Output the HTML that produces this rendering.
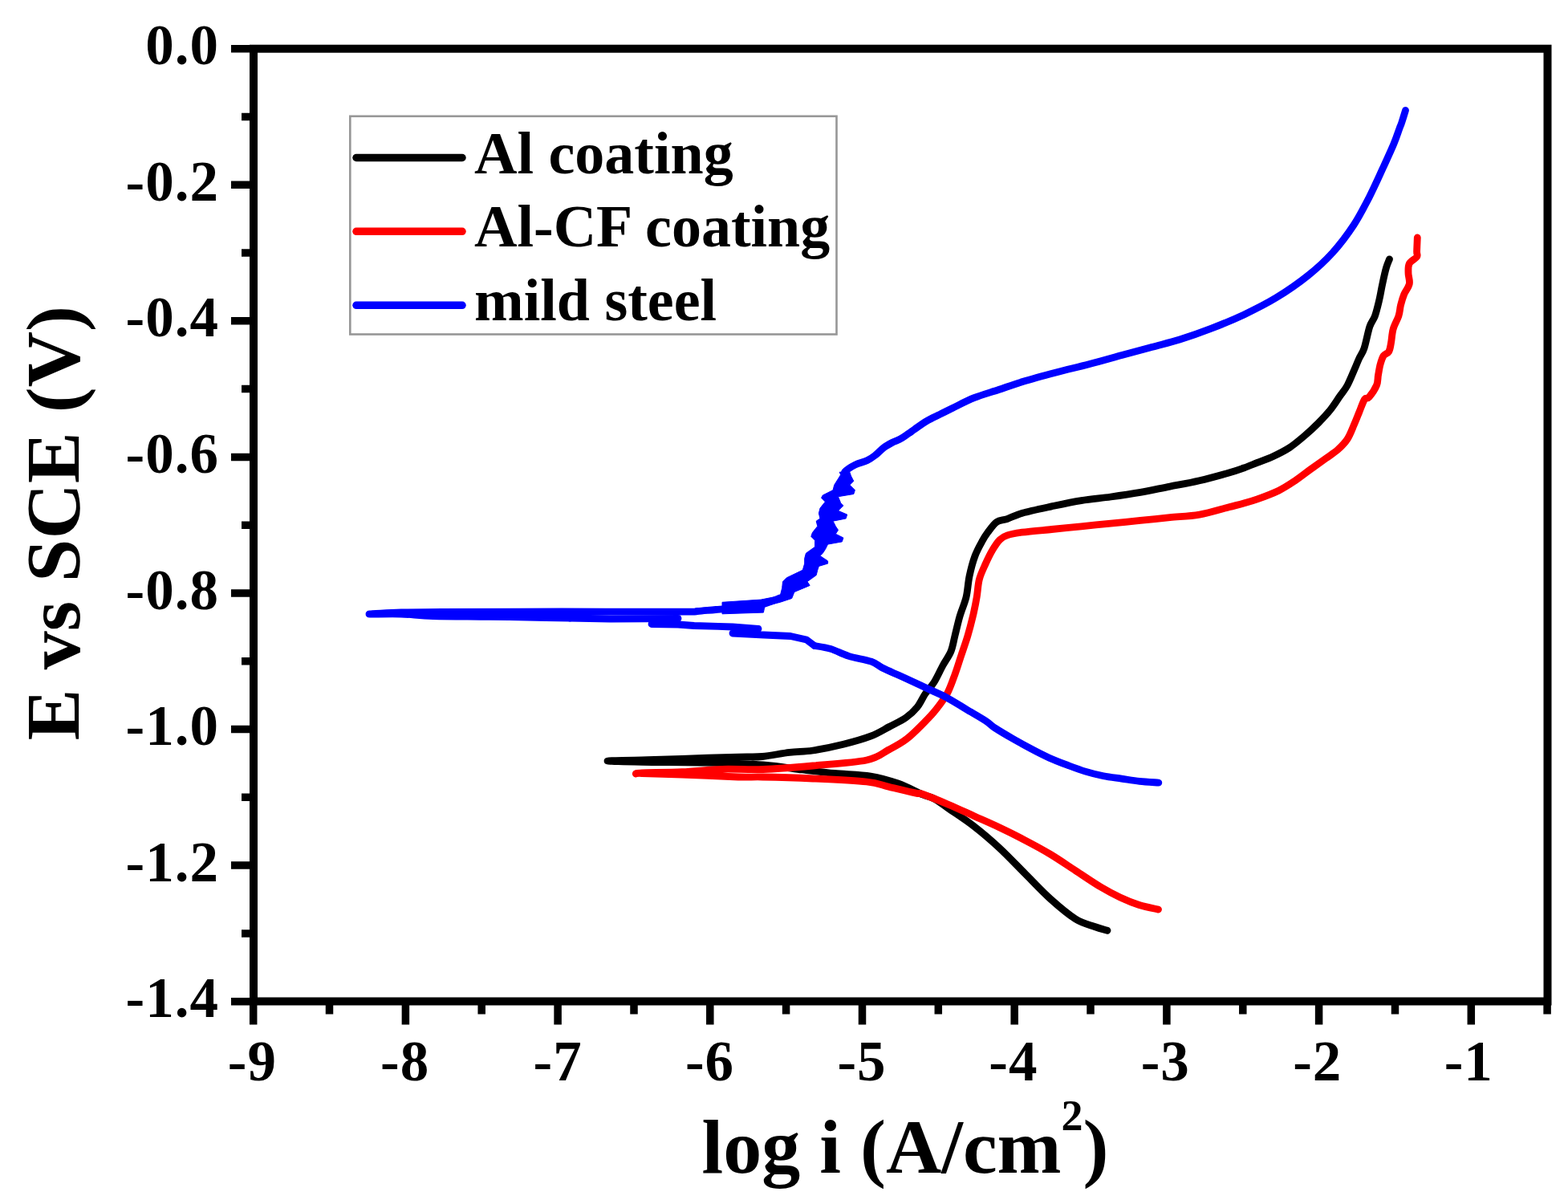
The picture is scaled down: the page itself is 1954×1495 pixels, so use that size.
<!DOCTYPE html>
<html><head><meta charset="utf-8"><style>
html,body{margin:0;padding:0;background:#fff;}
svg{display:block;}
text{font-family:"Liberation Serif","Times New Roman",serif;font-weight:bold;fill:#000;}
.tl{font-size:71px;letter-spacing:1px;}
.at{font-size:96px;}
.sup{font-size:54px;}
.lg{font-size:74px;}
</style></head><body>
<svg width="1954" height="1495" viewBox="0 0 1954 1495">
<rect x="0" y="0" width="1954" height="1495" fill="#fff"/>
<path d="M288.0,60.7H316M301.0,145.5H316M288.0,230.3H316M301.0,315.1H316M288.0,399.8H316M301.0,484.6H316M288.0,569.4H316M301.0,654.2H316M288.0,739.0H316M301.0,823.8H316M288.0,908.5H316M301.0,993.3H316M288.0,1078.1H316M301.0,1162.9H316M288.0,1247.7H316M315.7,1247.5V1276.5M410.5,1247.5V1263.5M505.4,1247.5V1276.5M600.2,1247.5V1263.5M695.1,1247.5V1276.5M790.0,1247.5V1263.5M884.8,1247.5V1276.5M979.6,1247.5V1263.5M1074.5,1247.5V1276.5M1169.3,1247.5V1263.5M1264.2,1247.5V1276.5M1359.0,1247.5V1263.5M1453.9,1247.5V1276.5M1548.8,1247.5V1263.5M1643.6,1247.5V1276.5M1738.5,1247.5V1263.5M1833.3,1247.5V1276.5M1928.1,1247.5V1263.5" stroke="#000" stroke-width="9.5" fill="none"/>
<rect x="316" y="60.7" width="1612.5" height="1186.8" fill="none" stroke="#000" stroke-width="10"/>
<text x="273" y="80.3" text-anchor="end" class="tl">0.0</text>
<text x="273" y="249.9" text-anchor="end" class="tl">-0.2</text>
<text x="273" y="419.4" text-anchor="end" class="tl">-0.4</text>
<text x="273" y="589.0" text-anchor="end" class="tl">-0.6</text>
<text x="273" y="758.6" text-anchor="end" class="tl">-0.8</text>
<text x="273" y="928.1" text-anchor="end" class="tl">-1.0</text>
<text x="273" y="1097.7" text-anchor="end" class="tl">-1.2</text>
<text x="273" y="1267.3" text-anchor="end" class="tl">-1.4</text>
<text x="314.4" y="1345.5" text-anchor="middle" class="tl">-9</text>
<text x="504.6" y="1345.5" text-anchor="middle" class="tl">-8</text>
<text x="695.1" y="1345.5" text-anchor="middle" class="tl">-7</text>
<text x="884.5" y="1345.5" text-anchor="middle" class="tl">-6</text>
<text x="1074.0" y="1345.5" text-anchor="middle" class="tl">-5</text>
<text x="1262.9" y="1345.5" text-anchor="middle" class="tl">-4</text>
<text x="1452.3" y="1345.5" text-anchor="middle" class="tl">-3</text>
<text x="1641.8" y="1345.5" text-anchor="middle" class="tl">-2</text>
<text x="1830.3" y="1345.5" text-anchor="middle" class="tl">-1</text>
<text transform="translate(98.7,922.4) rotate(-90)" class="at">E vs SCE (V)</text>
<text x="874.6" y="1460.6" class="at">log i (A/cm<tspan class="sup" dy="-53">2</tspan><tspan dy="53">)</tspan></text>
<rect x="436.3" y="144.8" width="606.2" height="271.7" fill="#fff" stroke="#979797" stroke-width="2.6"/>
<path d="M444,196.5H576" stroke="#000" stroke-width="9.5" stroke-linecap="round"/>
<text x="591" y="215.5" class="lg">Al coating</text>
<path d="M444,288.3H576" stroke="#f00" stroke-width="9.5" stroke-linecap="round"/>
<text x="591" y="307.3" class="lg">Al-CF coating</text>
<path d="M444,380.3H576" stroke="#00f" stroke-width="9.5" stroke-linecap="round"/>
<text x="591" y="399.3" class="lg">mild steel</text>
<g fill="none" stroke-width="8.8" stroke-linejoin="round" stroke-linecap="round">
<path d="M1380.0,1159.3 C1377.4,1158.5 1370.8,1156.9 1364.2,1154.5 C1357.6,1152.1 1349.7,1150.8 1340.4,1145.0 C1331.2,1139.2 1319.3,1129.1 1308.7,1119.6 C1298.1,1110.1 1287.5,1098.5 1276.9,1087.9 C1266.3,1077.3 1255.8,1066.0 1245.2,1056.2 C1234.6,1046.4 1224.1,1037.4 1213.5,1029.2 C1202.9,1021.0 1190.0,1012.7 1181.7,1007.0 C1173.5,1001.3 1169.3,997.8 1164.0,995.0 C1158.7,992.2 1157.5,993.2 1150.0,990.0 C1142.5,986.8 1129.8,979.8 1119.0,976.0 C1108.2,972.2 1098.2,969.1 1085.0,967.0 C1071.8,964.9 1054.2,964.8 1040.0,963.5 C1025.8,962.2 1014.8,960.8 1000.0,959.0 C985.2,957.2 971.0,954.5 951.0,953.0 C931.0,951.5 905.2,950.8 880.0,950.2 C854.8,949.6 820.5,949.7 800.0,949.3 C779.5,948.9 757.0,948.4 757.0,948.0 C757.0,947.6 784.5,947.5 800.0,947.0 C815.5,946.5 830.0,945.9 850.0,945.3 C870.0,944.6 903.3,943.6 920.0,943.1 C936.7,942.6 939.3,943.5 950.0,942.5 C960.7,941.5 973.5,938.6 984.0,937.4 C994.5,936.1 1001.8,936.7 1013.0,935.0 C1024.2,933.3 1039.0,930.3 1051.0,927.3 C1063.0,924.3 1075.5,920.8 1085.0,917.2 C1094.5,913.6 1100.7,909.4 1108.0,905.5 C1115.3,901.6 1123.2,898.1 1129.0,894.0 C1134.8,889.9 1139.0,885.9 1143.0,881.0 C1147.0,876.1 1149.5,869.6 1153.0,864.4 C1156.5,859.2 1160.3,855.9 1164.0,850.0 C1167.7,844.1 1171.5,835.4 1175.0,829.0 C1178.5,822.6 1182.5,817.7 1185.0,811.5 C1187.5,805.3 1188.2,799.2 1190.0,792.0 C1191.8,784.8 1193.7,776.0 1196.0,768.0 C1198.3,760.0 1202.0,752.3 1204.0,744.0 C1206.0,735.7 1206.2,726.6 1208.0,718.0 C1209.8,709.4 1212.3,699.9 1215.0,692.6 C1217.7,685.3 1221.3,679.1 1224.0,674.2 C1226.7,669.3 1228.0,667.2 1231.0,663.2 C1234.0,659.2 1238.0,653.1 1242.0,650.3 C1246.0,647.5 1249.7,648.5 1255.0,646.6 C1260.3,644.8 1264.8,641.8 1274.0,639.2 C1283.2,636.6 1298.3,633.5 1310.5,630.9 C1322.7,628.3 1335.1,625.6 1347.4,623.6 C1359.7,621.6 1371.9,620.7 1384.2,619.0 C1396.5,617.3 1408.8,615.5 1421.1,613.4 C1433.4,611.2 1445.6,608.5 1457.9,606.1 C1470.2,603.7 1482.5,601.6 1494.8,598.7 C1507.1,595.9 1522.4,591.6 1531.6,589.0 C1540.8,586.4 1544.1,585.1 1550.0,583.0 C1555.9,580.9 1560.7,578.8 1566.8,576.4 C1572.9,574.0 1580.1,571.5 1586.8,568.4 C1593.5,565.3 1600.4,561.9 1606.9,557.7 C1613.4,553.5 1619.6,548.1 1625.6,543.0 C1631.6,537.9 1637.7,532.3 1643.0,526.9 C1648.3,521.5 1653.2,516.4 1657.7,510.8 C1662.2,505.2 1666.2,498.5 1669.8,493.4 C1673.4,488.3 1676.1,485.6 1679.1,480.0 C1682.1,474.4 1685.6,465.5 1688.0,460.0 C1690.4,454.5 1691.4,451.6 1693.4,447.2 C1695.4,442.8 1697.8,440.5 1700.0,433.8 C1702.2,427.1 1704.6,413.8 1706.8,407.1 C1709.0,400.4 1711.4,399.3 1713.4,393.7 C1715.4,388.1 1717.2,380.3 1718.8,373.6 C1720.4,366.9 1721.3,360.3 1722.8,353.6 C1724.2,346.9 1726.0,338.6 1727.5,333.5 C1729.0,328.4 1730.8,324.6 1731.5,322.8" stroke="#000"/>
<path d="M1443.5,1133.1 C1439.5,1132.2 1427.6,1130.0 1419.7,1127.5 C1411.8,1125.0 1403.8,1121.7 1395.9,1118.0 C1388.0,1114.3 1381.3,1110.8 1372.1,1105.3 C1362.8,1099.8 1351.0,1091.6 1340.4,1084.7 C1329.8,1077.8 1319.3,1070.4 1308.7,1064.1 C1298.1,1057.8 1287.5,1052.1 1276.9,1046.6 C1266.3,1041.0 1255.8,1035.8 1245.2,1030.8 C1234.6,1025.8 1224.1,1021.3 1213.5,1016.5 C1202.9,1011.7 1192.3,1006.7 1181.7,1002.2 C1171.1,997.7 1156.7,991.9 1150.0,989.5 C1143.3,987.1 1148.5,989.6 1141.4,988.1 C1134.3,986.6 1117.8,982.6 1107.6,980.2 C1097.4,977.9 1095.8,975.7 1080.0,974.0 C1064.2,972.3 1034.7,971.0 1013.0,970.0 C991.3,969.0 965.5,968.3 950.0,968.0 C934.5,967.7 936.7,968.5 920.0,968.0 C903.3,967.5 870.0,965.8 850.0,965.0 C830.0,964.2 809.6,963.7 800.0,963.5 C790.4,963.3 792.5,964.1 792.5,964.0 C792.5,963.9 790.4,963.2 800.0,962.8 C809.6,962.4 833.3,962.5 850.0,961.7 C866.7,961.0 883.2,958.8 900.0,958.3 C916.8,957.8 932.2,959.2 951.0,958.5 C969.8,957.8 991.5,955.9 1013.0,954.0 C1034.5,952.1 1064.2,950.3 1080.0,947.0 C1095.8,943.7 1099.3,938.4 1107.6,934.0 C1115.9,929.6 1122.5,926.3 1130.0,920.5 C1137.5,914.7 1146.7,905.1 1152.7,899.1 C1158.7,893.1 1161.4,890.3 1166.0,884.5 C1170.6,878.7 1176.2,871.8 1180.2,864.4 C1184.2,857.0 1187.0,848.4 1189.9,840.4 C1192.9,832.4 1195.2,824.3 1197.9,816.3 C1200.6,808.3 1203.5,800.2 1205.9,792.2 C1208.3,784.2 1210.4,776.1 1212.3,768.1 C1214.2,760.1 1215.9,751.8 1217.2,744.1 C1218.5,736.4 1218.6,728.8 1220.3,722.1 C1222.0,715.4 1224.8,709.8 1227.6,703.7 C1230.3,697.6 1233.7,690.5 1236.8,685.3 C1239.9,680.1 1242.9,675.5 1246.0,672.4 C1249.1,669.3 1250.7,668.4 1255.3,666.9 C1259.9,665.4 1264.5,664.4 1273.7,663.2 C1282.9,662.0 1298.2,660.7 1310.5,659.5 C1322.8,658.3 1335.1,657.0 1347.4,655.8 C1359.7,654.6 1371.9,653.3 1384.2,652.1 C1396.5,650.9 1408.8,649.6 1421.1,648.4 C1433.4,647.2 1445.6,645.9 1457.9,644.7 C1470.2,643.5 1482.5,643.2 1494.8,641.1 C1507.1,639.0 1522.4,634.1 1531.6,631.8 C1540.8,629.4 1544.1,628.6 1550.0,627.0 C1555.9,625.4 1559.5,624.5 1566.8,621.9 C1574.0,619.3 1585.7,615.0 1593.5,611.2 C1601.3,607.4 1606.9,603.6 1613.6,599.1 C1620.3,594.6 1627.1,589.1 1633.6,584.4 C1640.1,579.7 1646.8,575.0 1652.4,571.0 C1658.0,567.0 1662.6,564.3 1667.1,560.3 C1671.5,556.3 1675.8,552.1 1679.1,547.0 C1682.4,541.9 1684.8,535.2 1687.2,529.6 C1689.7,524.0 1691.6,518.9 1693.8,513.5 C1696.0,508.1 1698.5,500.6 1700.5,497.5 C1702.5,494.4 1703.5,497.7 1706.0,494.8 C1708.5,491.9 1713.6,484.6 1715.5,480.0 C1717.4,475.4 1716.7,471.7 1717.5,467.3 C1718.3,462.9 1719.0,457.9 1720.1,453.9 C1721.2,449.9 1722.3,445.9 1724.1,443.2 C1725.9,440.5 1729.2,440.6 1730.8,437.9 C1732.4,435.2 1732.6,431.9 1733.5,427.2 C1734.4,422.5 1734.6,415.4 1736.2,409.8 C1737.8,404.2 1741.4,398.6 1742.9,393.7 C1744.5,388.8 1744.4,384.8 1745.5,380.3 C1746.6,375.9 1747.8,371.4 1749.6,367.0 C1751.4,362.6 1755.4,358.1 1756.3,353.6 C1757.2,349.1 1755.0,344.4 1755.0,340.2 C1755.0,336.0 1754.5,331.6 1756.3,328.2 C1758.1,324.8 1764.0,322.5 1765.6,320.0 C1767.1,317.5 1765.5,317.4 1765.6,313.4 C1765.7,309.4 1766.2,298.9 1766.3,296.0" stroke="#f00"/>
<path d="M1443.8,975.1 C1439.8,974.8 1427.8,974.2 1420.1,973.4 C1412.4,972.6 1405.1,971.2 1397.6,970.1 C1390.1,969.0 1382.6,968.2 1375.1,966.7 C1367.6,965.2 1360.1,963.4 1352.6,961.1 C1345.1,958.9 1337.6,956.0 1330.1,953.2 C1322.6,950.4 1315.1,947.6 1307.6,944.2 C1300.1,940.8 1292.5,936.9 1285.0,932.9 C1277.5,928.9 1270.0,924.8 1262.5,920.5 C1255.0,916.2 1245.7,910.7 1240.0,907.0 C1234.3,903.3 1234.4,902.0 1228.4,898.1 C1222.5,894.2 1212.3,888.5 1204.3,883.7 C1196.3,878.9 1188.2,873.6 1180.2,869.3 C1172.2,865.0 1164.2,861.8 1156.2,858.0 C1148.2,854.2 1138.2,849.6 1132.1,846.8 C1126.0,844.0 1124.8,843.5 1119.5,841.1 C1114.2,838.7 1105.6,835.1 1100.0,832.3 C1094.4,829.5 1092.9,826.7 1085.8,824.2 C1078.7,821.7 1066.0,820.0 1057.6,817.4 C1049.1,814.8 1042.2,810.5 1035.1,808.4 C1028.0,806.2 1018.4,805.1 1015.0,804.5" stroke="#00f"/>
<path d="M1015.0,804.5 L1005.0,797.0 L985.0,792.5 L952.0,791.0 L913.0,789.0 L945.0,783.5 L913.0,781.0 L895.0,780.3 L865.0,779.5 L845.0,778.0 L812.0,777.5 L845.0,770.5 L760.0,771.0 L710.0,770.0" stroke="#00f"/>
<path d="M710.0,770.0 C705.0,769.9 696.7,769.8 680.0,769.5 C663.3,769.2 633.3,768.6 610.0,768.3 C586.7,768.0 558.3,768.0 540.0,767.5 C521.7,767.0 513.3,765.4 500.0,765.0 C486.7,764.6 460.0,765.3 460.0,765.0 C460.0,764.7 485.0,763.4 500.0,763.0 C515.0,762.6 516.7,762.7 550.0,762.5 C583.3,762.3 650.0,762.0 700.0,762.0 C750.0,762.0 821.8,762.3 850.0,762.2 C878.2,762.1 862.0,762.0 869.0,761.5 C876.0,761.0 883.5,760.2 892.0,759.5 C900.5,758.8 910.3,758.1 920.0,757.0 C929.7,755.9 941.3,755.0 950.0,753.0 C958.7,751.0 968.3,746.3 972.0,745.0" stroke="#00f"/>
<path d="M1052.8,594.0 C1052.8,593.0 1050.7,590.3 1052.8,587.8 C1054.9,585.3 1060.9,581.5 1065.6,579.1 C1070.3,576.7 1076.6,575.5 1080.9,573.5 C1085.2,571.5 1087.8,569.4 1091.2,566.8 C1094.6,564.1 1098.0,560.1 1101.4,557.6 C1104.8,555.1 1108.2,553.3 1111.6,551.5 C1115.0,549.7 1118.5,548.8 1121.9,546.9 C1125.3,545.0 1129.1,542.2 1132.1,540.2 C1135.1,538.2 1136.2,537.2 1140.0,534.6 C1143.8,532.0 1149.5,527.6 1154.7,524.6 C1159.9,521.6 1165.5,519.1 1171.0,516.4 C1176.5,513.7 1180.3,511.6 1187.4,508.2 C1194.5,504.8 1204.3,499.5 1213.8,495.7 C1223.3,491.9 1234.3,488.9 1244.5,485.5 C1254.7,482.1 1263.3,478.9 1275.2,475.3 C1287.1,471.7 1302.5,467.6 1316.1,464.0 C1329.7,460.4 1343.3,457.4 1357.0,453.8 C1370.7,450.2 1385.0,446.1 1398.0,442.5 C1411.0,438.9 1423.0,435.8 1435.0,432.5 C1447.0,429.2 1457.5,426.9 1470.1,423.0 C1482.6,419.1 1496.9,414.1 1510.3,408.9 C1523.7,403.7 1537.0,398.2 1550.4,391.9 C1563.8,385.5 1577.1,379.0 1590.5,370.8 C1603.9,362.6 1619.0,352.1 1630.7,342.7 C1642.4,333.3 1651.4,325.0 1660.8,314.6 C1670.2,304.2 1679.2,292.2 1686.9,280.5 C1694.6,268.8 1700.9,256.1 1706.9,244.4 C1712.9,232.7 1718.0,221.1 1723.0,210.2 C1728.0,199.3 1733.5,187.4 1737.0,179.0 C1740.5,170.6 1742.3,164.5 1744.0,160.0 C1745.7,155.5 1745.8,155.8 1747.0,152.0 C1748.2,148.2 1750.8,139.9 1751.5,137.5" stroke="#00f"/>
</g>
<path d="M1046.1,588.2 L1047.7,591.4 L1039.7,604.2 L1038.1,610.6 L1025.2,617.1 L1023.6,620.3 L1028.4,625.1 L1022.0,633.1 L1020.4,639.5 L1022.0,646.0 L1017.2,649.2 L1018.8,655.6 L1012.4,663.6 L1010.8,668.4 L1015.6,673.2 L1015.6,681.3 L1004.4,689.3 L1002.7,695.7 L1002.7,702.1 L1000.3,710.2 L980.3,719.8 L975.5,724.6 L974.7,732.6 L972.2,742.3 L948.2,747.1 L900.0,750.3 L900.0,764.8 L951.4,763.1 L953.0,755.1 L972.2,750.3 L986.7,745.5 L989.9,737.5 L1009.2,729.4 L1006.0,724.6 L1017.2,716.6 L1018.8,710.2 L1020.4,705.4 L1031.6,702.1 L1031.6,698.9 L1022.0,692.5 L1025.2,689.3 L1028.4,684.5 L1031.6,678.1 L1049.3,674.9 L1050.9,670.0 L1041.3,665.2 L1044.5,660.4 L1041.3,655.6 L1038.1,649.2 L1054.1,646.0 L1055.7,641.1 L1044.5,636.3 L1050.9,629.9 L1047.7,626.7 L1044.5,618.7 L1063.8,615.5 L1065.4,610.6 L1058.9,604.2 L1063.8,599.4 L1060.5,593.0 L1058.9,588.2Z" fill="#00f" stroke="#00f" stroke-width="1" stroke-linejoin="round"/>
</svg>
</body></html>
